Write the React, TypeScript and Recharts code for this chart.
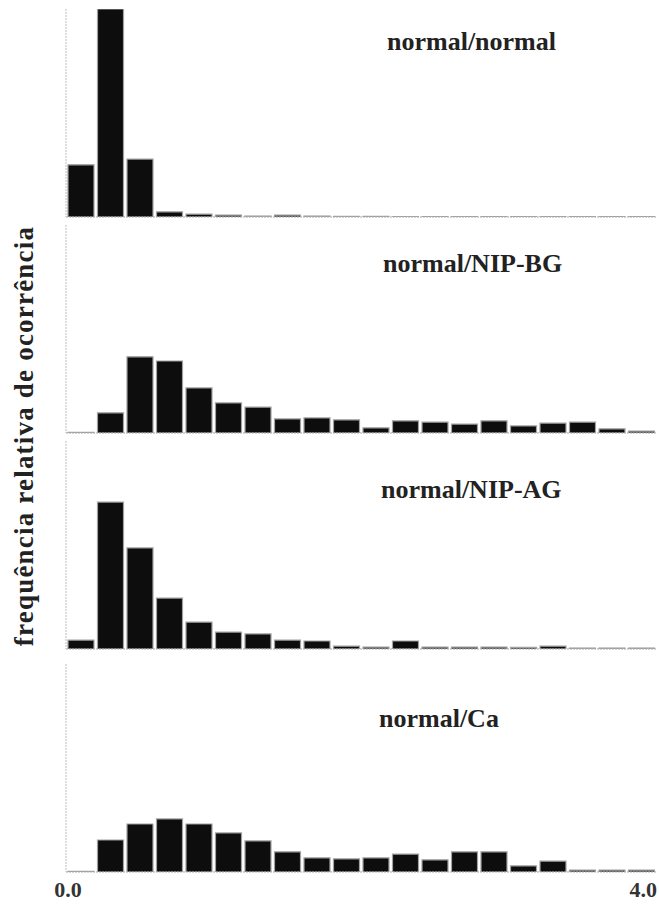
import React from 'react';
import { BarChart, Bar, XAxis, YAxis } from 'recharts';

// bin starts (width 0.2), 0.0 .. 3.8
const bins = ['0.0', '0.2', '0.4', '0.6', '0.8', '1.0', '1.2', '1.4', '1.6', '1.8',
  '2.0', '2.2', '2.4', '2.6', '2.8', '3.0', '3.2', '3.4', '3.6', '3.8'];

// relative frequency (%) per bin
const normalNormal = [16.3, 65, 18.1, 1.6, 0.9, 0.6, 0.3, 0.6, 0.3, 0.2,
  0.2, 0.1, 0.1, 0.1, 0.1, 0.1, 0.1, 0.1, 0.1, 0.1];
const nipBG = [0.2, 6.3, 23.8, 22.5, 14.1, 9.4, 8.1, 4.4, 4.7, 4.1,
  1.6, 3.8, 3.4, 2.8, 3.8, 2.2, 3.1, 3.4, 1.3, 0.6];
const nipAG = [2.8, 45.9, 31.6, 15.9, 8.4, 5.3, 4.7, 2.8, 2.5, 0.9,
  0.6, 2.5, 0.6, 0.6, 0.6, 0.5, 0.9, 0.3, 0.3, 0.3];
const normalCa = [0.2, 10, 15, 16.6, 15, 12.2, 9.7, 6.3, 4.4, 4.1,
  4.4, 5.6, 3.8, 6.3, 6.3, 1.9, 3.4, 0.6, 0.6, 0.6];

const titles = ['normal/normal', 'normal/NIP-BG', 'normal/NIP-AG', 'normal/Ca'];
const xTicks = [0, 4];
const yLabel = 'frequência relativa de ocorrência';

const series = [normalNormal, nipBG, nipAG, normalCa];

const W = 659;
const panels = [
  { top: 0, plotTop: 9, base: 217, titleX: 387, titleY: 50 },
  { top: 220, plotTop: 225, base: 433, titleX: 383, titleY: 272 },
  { top: 436, plotTop: 441, base: 649, titleX: 381, titleY: 498 },
  { top: 656, plotTop: 664, base: 872, titleX: 379, titleY: 727 },
];

const serif = '"Liberation Serif", "DejaVu Serif", serif';

const EdgeTick = (props: any) => {
  const { x, y, payload } = props;
  const end = payload.value > 0;
  return (
    <text x={x + 2} y={y + 16} textAnchor={end ? 'end' : 'middle'}
      fontFamily={serif} fontWeight="bold" fontSize={22} fill="#333">
      {Number(payload.value).toFixed(1)}
    </text>
  );
};

const Panel = ({ idx }: { idx: number }) => {
  const p = panels[idx];
  const data = bins.map((b, i) => ({ bin: b, pos: i * 0.2, v: series[idx][i] }));
  const last = idx === panels.length - 1;
  const height = p.base - p.top + (last ? 40 : 1);
  return (
    <div style={{ position: 'absolute', left: 0, top: p.top }}>
      <BarChart width={W} height={height} data={data}
        margin={{ top: p.plotTop - p.top, right: 3, bottom: 0, left: 65 }}
        barCategoryGap={2}>
        <XAxis dataKey="bin" height={1} tick={false} tickLine={false}
          axisLine={{ stroke: '#aaa', strokeDasharray: '2 1' }} />
        {last && (
          <XAxis xAxisId="num" dataKey="pos" type="number" domain={[0, 4]} allowDataOverflow
            ticks={xTicks} height={39} axisLine={false} tickLine={false} tick={<EdgeTick />} />
        )}
        <YAxis width={1} domain={[0, 65]} allowDataOverflow tick={false} tickLine={false}
          axisLine={{ stroke: '#bbb', strokeDasharray: '2 1' }} />
        <Bar dataKey="v" fill="#0d0d0d" stroke="#a0a0a0" strokeWidth={1.2}
          isAnimationActive={false} />
      </BarChart>
    </div>
  );
};

export default function App() {
  return (
    <div style={{ position: 'absolute', left: 0, top: 0, width: W, height: 910, background: '#fff' }}>
      {panels.map((_, i) => <Panel key={i} idx={i} />)}
      <svg width={W} height={910} style={{ position: 'absolute', left: 0, top: 0, pointerEvents: 'none' }}>
        {panels.map((p, i) => (
          <text key={i} x={p.titleX} y={p.titleY} fontFamily={serif} fontWeight="bold"
            fontSize={26} fill="#222">{titles[i]}</text>
        ))}
        <text x={0} y={0} transform="translate(33, 436) rotate(-90)" textAnchor="middle"
          fontFamily={serif} fontWeight="bold" fontSize={27} letterSpacing={1.2} fill="#222">
          {yLabel}
        </text>
      </svg>
    </div>
  );
}
